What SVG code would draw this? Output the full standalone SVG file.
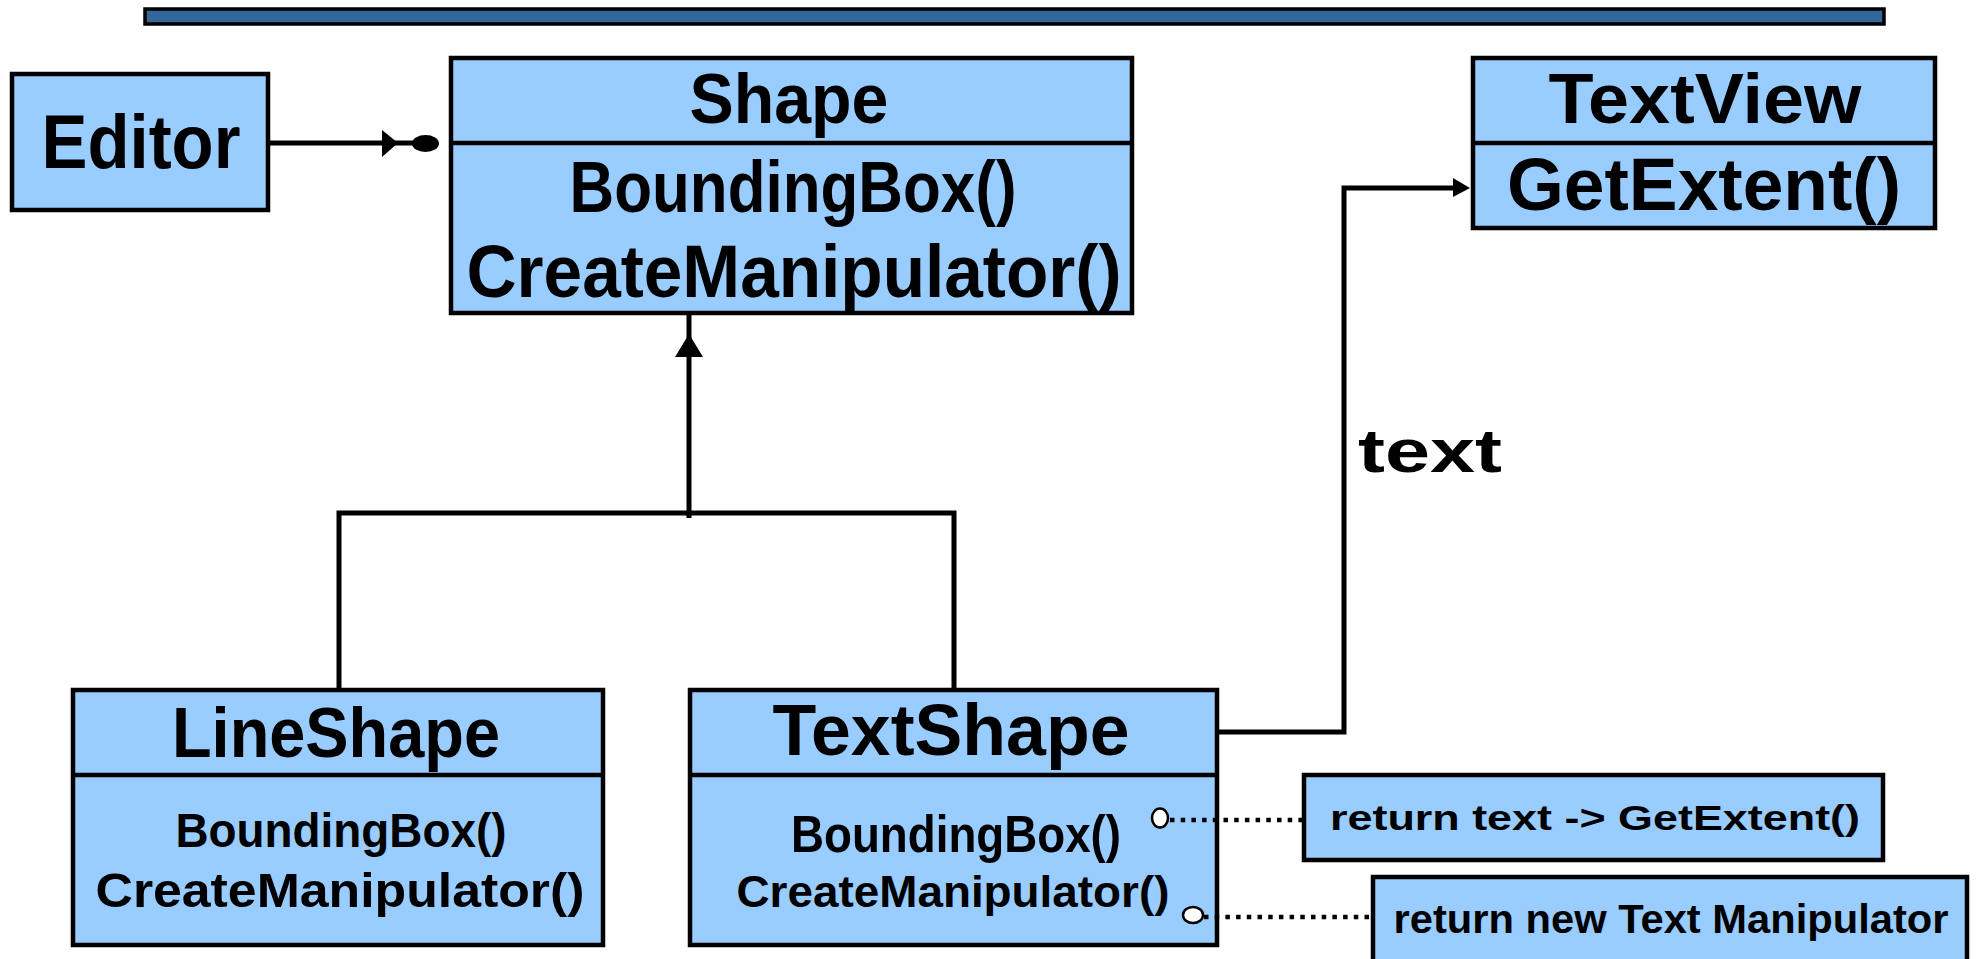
<svg xmlns="http://www.w3.org/2000/svg" width="1978" height="959" viewBox="0 0 1978 959">
<style>
.box{fill:#99CCFF;stroke:#000;stroke-width:4.5}
.div{stroke:#000;stroke-width:4.5}
.t{font-family:"Liberation Sans",Arial,sans-serif;font-weight:bold;fill:#000;text-anchor:middle}
.ln{fill:none;stroke:#000;stroke-width:5;stroke-linejoin:miter;stroke-linecap:butt}
.dot{fill:none;stroke:#000;stroke-width:4.5;stroke-dasharray:4.5 6.2}
.oc{fill:#fff;stroke:#000;stroke-width:2.5}
</style>
<rect id="topbar" x="145" y="9" width="1739" height="15" fill="#336699" stroke="#000" stroke-width="3.5"/>
<g id="Editor">
  <rect class="box" x="12" y="74" width="256" height="136"/>
  <text class="t" x="141" y="168" font-size="76" textLength="199" lengthAdjust="spacingAndGlyphs">Editor</text>
</g>
<g id="Shape">
  <rect class="box" x="451" y="58" width="681" height="255"/>
  <line class="div" x1="451" y1="143" x2="1132" y2="143"/>
  <text class="t" x="789" y="123" font-size="70" textLength="199" lengthAdjust="spacingAndGlyphs">Shape</text>
  <text class="t" x="793" y="212" font-size="72" textLength="447" lengthAdjust="spacingAndGlyphs">BoundingBox()</text>
  <text class="t" x="794" y="297" font-size="74" textLength="655" lengthAdjust="spacingAndGlyphs">CreateManipulator()</text>
</g>
<g id="TextView">
  <rect class="box" x="1473" y="58" width="462" height="170"/>
  <line class="div" x1="1473" y1="143" x2="1935" y2="143"/>
  <text class="t" x="1705" y="123" font-size="70" textLength="313" lengthAdjust="spacingAndGlyphs">TextView</text>
  <text class="t" x="1704" y="210" font-size="74" textLength="394" lengthAdjust="spacingAndGlyphs">GetExtent()</text>
</g>
<g id="LineShape">
  <rect class="box" x="73" y="690" width="530" height="255"/>
  <line class="div" x1="73" y1="775" x2="603" y2="775"/>
  <text class="t" x="336" y="757" font-size="70" textLength="328" lengthAdjust="spacingAndGlyphs">LineShape</text>
  <text class="t" x="341" y="847" font-size="48" textLength="331" lengthAdjust="spacingAndGlyphs">BoundingBox()</text>
  <text class="t" x="340" y="907" font-size="49" textLength="489" lengthAdjust="spacingAndGlyphs">CreateManipulator()</text>
</g>
<g id="TextShape">
  <rect class="box" x="690" y="690" width="527" height="255"/>
  <line class="div" x1="690" y1="775" x2="1217" y2="775"/>
  <text class="t" x="951" y="755" font-size="72" textLength="357" lengthAdjust="spacingAndGlyphs">TextShape</text>
  <text class="t" x="956" y="852" font-size="52" textLength="330" lengthAdjust="spacingAndGlyphs">BoundingBox()</text>
  <text class="t" x="953" y="907" font-size="45" textLength="433" lengthAdjust="spacingAndGlyphs">CreateManipulator()</text>
</g>
<g id="note1">
  <rect class="box" x="1304" y="775" width="579" height="85"/>
  <text class="t" x="1595" y="830" font-size="35" textLength="530" lengthAdjust="spacingAndGlyphs">return text -&gt; GetExtent()</text>
</g>
<g id="note2">
  <rect class="box" x="1373" y="877" width="594" height="100"/>
  <text class="t" x="1671" y="933" font-size="40" textLength="555" lengthAdjust="spacingAndGlyphs">return new Text Manipulator</text>
</g>
<g id="connectors">
  <line class="ln" x1="269" y1="143" x2="414" y2="143"/>
  <polygon points="382,130 398,143 382,157" fill="#000"/>
  <ellipse cx="425.5" cy="143.5" rx="13.5" ry="8.5" fill="#000"/>
  <line class="ln" x1="689" y1="315" x2="689" y2="518"/>
  <polygon points="689,334 675,357 703,357" fill="#000"/>
  <polyline class="ln" points="339,688 339,513 954,513 954,688"/>
  <polyline class="ln" points="1219,732 1344,732 1344,188 1456,188"/>
  <polygon points="1453,178 1470,188 1453,197" fill="#000"/>
  <line class="dot" x1="1170" y1="820" x2="1302" y2="820"/>
  <ellipse class="oc" cx="1160" cy="818" rx="8" ry="9.5"/>
  <line class="dot" x1="1204" y1="917" x2="1371" y2="917"/>
  <ellipse class="oc" cx="1193" cy="915" rx="10" ry="8"/>
  <text class="t" x="1358" y="472" font-size="62" textLength="144" lengthAdjust="spacingAndGlyphs" style="text-anchor:start">text</text>
</g>
</svg>
